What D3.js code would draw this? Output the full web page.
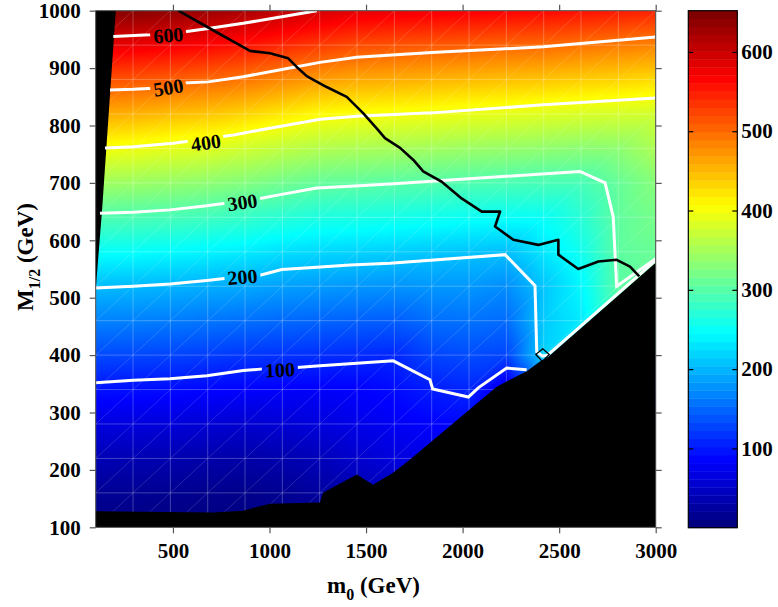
<!DOCTYPE html>
<html>
<head>
<meta charset="utf-8">
<script src="https://cdn.jsdelivr.net/npm/d3@7"></script>
<style>
  html, body { margin: 0; padding: 0; background: #ffffff; }
  svg { display: block; }
</style>
</head>
<body>
<svg id="chart" width="778" height="607"></svg>
<script>
// ---- scan grid nodes ----
const m0Nodes = [100, 293.33, 486.67, 680, 873.33, 1066.67, 1260, 1453.33,
                 1646.67, 1840, 2033.33, 2226.67, 2420, 2613.33, 2806.67, 3000];
const m12Nodes = [100, 160, 220, 280, 340, 400, 460, 520, 580, 640, 700, 760, 820, 880, 940, 1000];

// mass values at the grid nodes (GeV); one row per M1/2 node, columns follow m0Nodes
const massGrid = [
  [  2,   2,   1,   0,   0,   0,   2,   5,  10,  10,   0,   0,   0,   0,   0,   0],
  [ 14,  13,  11,   9,   8,  12,  20,  30,  40,  45,  30,   0,   0,   0,   0,   0],
  [ 35,  33,  31,  28,  26,  30,  38,  50,  60,  65,  60,  10,   0,   0,   0,   0],
  [ 62,  60,  58,  55,  52,  55,  60,  68,  75,  82,  85,  30,  20,   0,   0,   0],
  [ 93,  91,  89,  85,  82,  80,  80,  82,  88,  99, 105,  60, 120, 100, 100, 100],
  [129, 127, 125, 121, 116, 114, 111, 108, 106, 125, 130, 125, 215, 220, 200, 200],
  [165, 164, 161, 157, 153, 149, 146, 143, 141, 152, 155, 150, 211, 232, 290, 290],
  [202, 200, 197, 193, 190, 184, 181, 178, 176, 179, 179, 172, 208, 240, 303, 300],
  [248, 247, 243, 238, 233, 225, 220, 217, 214, 210, 207, 204, 230, 255, 304, 312],
  [295, 293, 290, 285, 279, 270, 263, 261, 258, 254, 251, 248, 250, 270, 306, 320],
  [347, 344, 340, 335, 328, 317, 308, 305, 301, 298, 295, 292, 290, 290, 310, 330],
  [402, 397, 391, 387, 377, 367, 358, 354, 351, 348, 344, 341, 337, 333, 335, 355],
  [460, 457, 450, 444, 434, 421, 409, 404, 401, 398, 394, 391, 387, 383, 380, 378],
  [519, 516, 510, 503, 495, 483, 470, 462, 459, 455, 451, 447, 444, 439, 435, 430],
  [586, 583, 577, 569, 559, 546, 533, 522, 518, 514, 511, 506, 503, 497, 491, 486],
  [650, 647, 641, 633, 624, 611, 598, 587, 582, 578, 575, 571, 567, 561, 555, 549]
];

// iso-mass contours, [m0, M1/2] in GeV
const contour100 = [[100,352],[295,356],[485,359],[675,364],[864,373],[968,376],[1141,378.5],[1262,381.5],
  [1452,386],[1641,390],[1831,357],[1845,341],[2030,327],[2081,343],[2228,377.5],[2332,374.5]];
const contour200 = [[100,517],[295,520],[485,524],[675,530],[778,534],[951,539],[1063,549],[1245,553],
  [1417,557],[1624,560],[2220,575],[2375,521],[2384,406],[2414,398],[2440,400],[2780,500],[3000,565]];
const contour300 = [[122,647],[295,649],[485,653],[675,660],[761,664],[951,673],[1063,680],[1245,691],
  [1417,694],[1624,698],[2608,720],[2738,700],[2780,641],[2798,520],[3000,568]];
const contour400 = [[148,761],[295,763],[502,769],[821,784],[951,792],[1262,811],[1452,816],[1840,822],
  [2418,836],[3000,848]];
const contour500 = [[174,862],[295,863],[398,865],[554,874],[683,876],[864,885],[1106,900],[1262,910],
  [1452,919],[1840,927],[2418,937],[3000,954]];
const contour600 = [[191,955],[381,958],[554,963],[683,969],[864,978],[1072,990],[1245,1000]];
const contourLevels = [100, 200, 300, 400, 500, 600];

// label anchors on the contours
const labelLevels = [600, 500, 400, 300, 200, 100];
const labelM0 = [476, 476, 671, 860, 860, 1054];
const labelM12 = [957, 866, 770, 666, 536, 374];

// limit curve and the small closed loop next to it
const limitCurve = [[528,1000],[692,969],[899,930],[1003,926],[1097,917],[1141,902],[1193,886],[1296,867],
  [1400,850],[1486,821],[1555,795],[1598,778],[1676,761],[1745,740],[1796,720],[1892,702],[1995,673],
  [2099,650],[2194,650],[2168,624],[2263,601],[2392,592],[2496,601],[2496,575],[2599,550],[2703,563],
  [2798,566],[2867,554],[2915,537]];
const limitLoop = [[2415,411],[2449,401],[2413,389],[2379,401]];

// excluded regions
const excludedLeft = [[100,1000],[204,1000],[133,653],[100,514]];
const excludedBottom = [[100,128],[707,126],[863,129],[1003,141],[1262,143],[1277,160],[1452,192],
  [1536,174],[1640,195],[1728,218],[2177,345],[2228,354],[2332,372],[2401,389],[2436,395],[2780,496],
  [3000,561],[3000,100],[100,100]];

// axis ticks
const xTicks = [500, 1000, 1500, 2000, 2500, 3000];
const yTicks = [100, 200, 300, 400, 500, 600, 700, 800, 900, 1000];
const cbTicks = [100, 200, 300, 400, 500, 600];
const cbMax = 652;
const cbSteps = 64;

// ---------------------------------------------------------------
const svg = d3.select("#chart");
const serif = "'Liberation Serif', 'Times New Roman', Times, serif";
const plot = { left: 95.7, right: 655.7, top: 10.7, bottom: 527.3 };
const cbox = { left: 688.3, right: 737.3, top: 10.7, bottom: 527.7 };

const x = d3.scaleLinear().domain([100, 3000]).range([plot.left, plot.right]);
const y = d3.scaleLinear().domain([100, 1000]).range([plot.bottom, plot.top]);
const cy = d3.scaleLinear().domain([0, cbMax]).range([cbox.bottom, cbox.top]);

function clamp01(v) { return v < 0 ? 0 : v > 1 ? 1 : v; }
function jet(t) {
  t = clamp01(t);
  return [
    255 * clamp01(1.5 - Math.abs(4 * t - 3)),
    255 * clamp01(1.5 - Math.abs(4 * t - 2)),
    255 * clamp01(1.5 - Math.abs(4 * t - 1))
  ];
}

// value at (m0, M) from the triangulated grid (diagonal lower-left to upper-right)
function fieldAt(m0, m) {
  let i = d3.bisectRight(m0Nodes, m0) - 1;
  let j = d3.bisectRight(m12Nodes, m) - 1;
  i = Math.max(0, Math.min(m0Nodes.length - 2, i));
  j = Math.max(0, Math.min(m12Nodes.length - 2, j));
  const fi = clamp01((m0 - m0Nodes[i]) / (m0Nodes[i + 1] - m0Nodes[i]));
  const fj = clamp01((m - m12Nodes[j]) / (m12Nodes[j + 1] - m12Nodes[j]));
  const v00 = massGrid[j][i], v10 = massGrid[j][i + 1];
  const v01 = massGrid[j + 1][i], v11 = massGrid[j + 1][i + 1];
  if (fj <= fi) return v00 + fi * (v10 - v00) + fj * (v11 - v10);
  return v00 + fj * (v01 - v00) + fi * (v11 - v01);
}

const defs = svg.append("defs");
defs.append("clipPath").attr("id", "plotClip")
  .append("rect")
  .attr("x", plot.left).attr("y", plot.top)
  .attr("width", plot.right - plot.left).attr("height", plot.bottom - plot.top);

// ---- shaded mass map ----
const pw = plot.right - plot.left, ph = plot.bottom - plot.top;
const cw = Math.round(pw), ch = Math.round(ph);
const canvas = document.createElement("canvas");
canvas.width = cw; canvas.height = ch;
const ctx = canvas.getContext("2d");
const img = ctx.createImageData(cw, ch);
for (let py = 0; py < ch; py++) {
  const m = y.invert(plot.top + (py + 0.5) * ph / ch);
  for (let px = 0; px < cw; px++) {
    const m0 = x.invert(plot.left + (px + 0.5) * pw / cw);
    const c = jet(fieldAt(m0, m) / cbMax);
    const k = 4 * (py * cw + px);
    img.data[k] = c[0]; img.data[k + 1] = c[1]; img.data[k + 2] = c[2]; img.data[k + 3] = 255;
  }
}
ctx.putImageData(img, 0, 0);

const plotG = svg.append("g").attr("clip-path", "url(#plotClip)");
plotG.append("image")
  .attr("x", plot.left).attr("y", plot.top)
  .attr("width", pw).attr("height", ph)
  .attr("preserveAspectRatio", "none")
  .attr("href", canvas.toDataURL());

// faint mesh of the scan triangulation
const mesh = plotG.append("g").attr("fill", "none").attr("stroke", "#ffffff");
mesh.selectAll("line.v").data(m0Nodes).join("line")
  .attr("x1", d => x(d)).attr("x2", d => x(d))
  .attr("y1", y(100)).attr("y2", y(1000))
  .attr("stroke-width", 0.8).attr("stroke-opacity", 0.32);
mesh.selectAll("line.h").data(m12Nodes).join("line")
  .attr("y1", d => y(d)).attr("y2", d => y(d))
  .attr("x1", x(100)).attr("x2", x(3000))
  .attr("stroke-width", 0.8).attr("stroke-opacity", 0.32);
const diagCells = [];
for (let i = 0; i < m0Nodes.length - 1; i++)
  for (let j = 0; j < m12Nodes.length - 1; j++) diagCells.push([i, j]);
mesh.selectAll("line.d").data(diagCells).join("line")
  .attr("x1", d => x(m0Nodes[d[0]])).attr("y1", d => y(m12Nodes[d[1]]))
  .attr("x2", d => x(m0Nodes[d[0] + 1])).attr("y2", d => y(m12Nodes[d[1] + 1]))
  .attr("stroke-width", 0.6).attr("stroke-opacity", 0.26);

// excluded regions
const line = d3.line().x(d => x(d[0])).y(d => y(d[1]));
plotG.append("path").attr("d", line(excludedLeft) + "Z").attr("fill", "#000");
plotG.append("path").attr("d", line(excludedBottom) + "Z").attr("fill", "#000");

// label placement and orientation from the contour geometry
const contourSets = [contour100, contour200, contour300, contour400, contour500, contour600];
const labels = labelLevels.map((lv, k) => {
  const pts = contourSets[contourLevels.indexOf(lv)];
  const lx = x(labelM0[k]);
  let ang = 0;
  for (let s = 0; s < pts.length - 1; s++) {
    const x1 = x(pts[s][0]), x2 = x(pts[s + 1][0]);
    if (lx >= Math.min(x1, x2) && lx <= Math.max(x1, x2)) {
      ang = Math.atan2(y(pts[s + 1][1]) - y(pts[s][1]), x2 - x1) * 180 / Math.PI;
      break;
    }
  }
  return { level: lv, cx: lx, cy: y(labelM12[k]), ang };
});

// gaps in the contour lines under their labels
const mask = defs.append("mask").attr("id", "labelGaps").attr("maskUnits", "userSpaceOnUse")
  .attr("x", 0).attr("y", 0).attr("width", 778).attr("height", 607);
mask.append("rect").attr("x", 0).attr("y", 0).attr("width", 778).attr("height", 607).attr("fill", "#fff");
mask.selectAll("rect.gap").data(labels).join("rect")
  .attr("x", -18).attr("y", -9).attr("width", 36).attr("height", 18).attr("fill", "#000")
  .attr("transform", d => `translate(${d.cx},${d.cy}) rotate(${d.ang})`);

const contourG = plotG.append("g").attr("mask", "url(#labelGaps)");
contourG.selectAll("path").data(contourSets).join("path")
  .attr("d", d => line(d))
  .attr("fill", "none").attr("stroke", "#ffffff").attr("stroke-width", 3)
  .attr("stroke-linejoin", "miter");

plotG.selectAll("text.clabel").data(labels).join("text")
  .attr("class", "clabel")
  .attr("transform", d => `translate(${d.cx},${d.cy}) rotate(${d.ang})`)
  .attr("text-anchor", "middle").attr("dy", "0.34em")
  .attr("font-family", serif).attr("font-weight", "bold").attr("font-size", 20)
  .attr("fill", "#000")
  .text(d => d.level);

// limit curve
plotG.append("path").attr("d", line(limitCurve))
  .attr("fill", "none").attr("stroke", "#000").attr("stroke-width", 2.6)
  .attr("stroke-linejoin", "round");
plotG.append("path").attr("d", line(limitLoop) + "Z")
  .attr("fill", "none").attr("stroke", "#000").attr("stroke-width", 1.3);

// frame and axes
svg.append("rect")
  .attr("x", plot.left).attr("y", plot.top).attr("width", pw).attr("height", ph)
  .attr("fill", "none").attr("stroke", "#444").attr("stroke-width", 1);

function styleAxis(g) {
  g.select(".domain").remove();
  g.selectAll(".tick line").attr("stroke", "#555").attr("stroke-width", 1.2);
  g.attr("font-family", serif).attr("font-weight", "bold").attr("font-size", 21);
  g.selectAll(".tick text").attr("fill", "#000");
}
svg.append("g").attr("transform", `translate(0,${plot.bottom})`)
  .call(d3.axisBottom(x).tickValues(xTicks).tickSize(6).tickPadding(10).tickFormat(d3.format("d")))
  .call(styleAxis);
svg.append("g").attr("transform", `translate(0,${plot.top})`)
  .call(d3.axisTop(x).tickValues(xTicks).tickSize(6).tickFormat(""))
  .call(styleAxis);
svg.append("g").attr("transform", `translate(${plot.left},0)`)
  .call(d3.axisLeft(y).tickValues(yTicks).tickSize(6).tickPadding(9).tickFormat(d3.format("d")))
  .call(styleAxis);
svg.append("g").attr("transform", `translate(${plot.right},0)`)
  .call(d3.axisRight(y).tickValues(yTicks).tickSize(6).tickFormat(""))
  .call(styleAxis);

// axis titles
const xTitle = svg.append("text")
  .attr("x", 373.5).attr("y", 593).attr("text-anchor", "middle")
  .attr("font-family", serif).attr("font-weight", "bold").attr("font-size", 23).attr("fill", "#000");
xTitle.append("tspan").text("m");
xTitle.append("tspan").attr("font-size", 16).attr("dy", 7).text("0");
xTitle.append("tspan").attr("dy", -7).text(" (GeV)");

const yTitle = svg.append("text")
  .attr("transform", "translate(33,257) rotate(-90)").attr("text-anchor", "middle")
  .attr("font-family", serif).attr("font-weight", "bold").attr("font-size", 23).attr("fill", "#000");
yTitle.append("tspan").text("M");
yTitle.append("tspan").attr("font-size", 16).attr("dy", 7).text("1/2");
yTitle.append("tspan").attr("dy", -7).text(" (GeV)");

// ---- colour bar ----
const bands = d3.range(cbSteps);
const cbG = svg.append("g");
cbG.selectAll("rect.band").data(bands).join("rect")
  .attr("x", cbox.left)
  .attr("y", k => cy((k + 1) * cbMax / cbSteps))
  .attr("width", cbox.right - cbox.left)
  .attr("height", k => cy(k * cbMax / cbSteps) - cy((k + 1) * cbMax / cbSteps) + 0.4)
  .attr("fill", k => { const c = jet(k / (cbSteps - 1)); return `rgb(${c[0]},${c[1]},${c[2]})`; });
cbG.append("rect")
  .attr("x", cbox.left).attr("y", cbox.top)
  .attr("width", cbox.right - cbox.left).attr("height", cbox.bottom - cbox.top)
  .attr("fill", "none").attr("stroke", "#000").attr("stroke-width", 1.2);

function styleCb(g) {
  g.select(".domain").remove();
  g.selectAll(".tick line").attr("stroke", "#000").attr("stroke-width", 1.2);
  g.attr("font-family", serif).attr("font-weight", "bold").attr("font-size", 21);
  g.selectAll(".tick text").attr("fill", "#000");
}
svg.append("g").attr("transform", `translate(${cbox.right},0)`)
  .call(d3.axisRight(cy).tickValues(cbTicks).tickSize(-5).tickPadding(4).tickFormat(d3.format("d")))
  .call(styleCb);
svg.append("g").attr("transform", `translate(${cbox.left},0)`)
  .call(d3.axisLeft(cy).tickValues(cbTicks).tickSize(-5).tickFormat(""))
  .call(styleCb);
</script>
</body>
</html>
